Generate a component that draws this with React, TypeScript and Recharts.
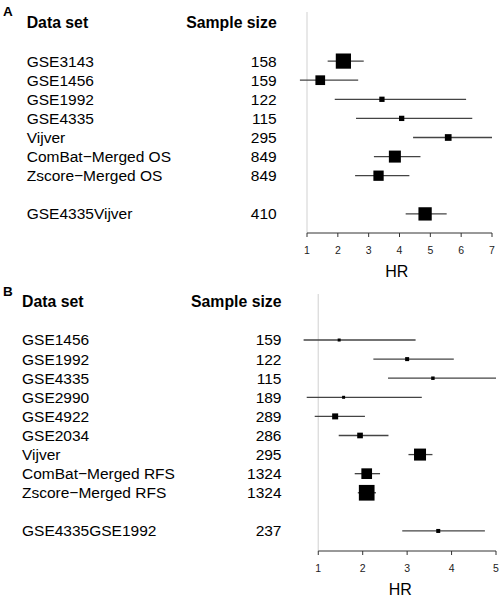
import {
  ErrorBar,
  ReferenceLine,
  Scatter,
  ScatterChart,
  XAxis,
  YAxis,
  ZAxis,
} from "recharts";

const FONT = '"Liberation Sans", Arial, Helvetica, sans-serif';

// Panel A: overall survival
const datasetsA = [
  "GSE3143",
  "GSE1456",
  "GSE1992",
  "GSE4335",
  "Vijver",
  "ComBat−Merged OS",
  "Zscore−Merged OS",
  "GSE4335Vijver",
];
const samplesA = [158, 159, 122, 115, 295, 849, 849, 410];
const hrA = [2.18, 1.43, 3.43, 4.07, 5.58, 3.85, 3.32, 4.83];
const lowerA = [1.67, 0.77, 1.9, 2.59, 4.44, 3.17, 2.56, 4.2];
const upperA = [2.84, 2.66, 6.16, 6.36, 7.0, 4.68, 4.32, 5.53];
const weightA = [231, 94, 28, 28, 45, 144, 106, 177];
const ticksA = [1, 2, 3, 4, 5, 6, 7];

// Panel B: relapse-free survival
const datasetsB = [
  "GSE1456",
  "GSE1992",
  "GSE4335",
  "GSE2990",
  "GSE4922",
  "GSE2034",
  "Vijver",
  "ComBat−Merged RFS",
  "Zscore−Merged RFS",
  "GSE4335GSE1992",
];
const samplesB = [159, 122, 115, 189, 289, 286, 295, 1324, 1324, 237];
const hrB = [1.47, 3.0, 3.58, 1.57, 1.38, 1.94, 3.29, 2.09, 2.09, 3.7];
const lowerB = [0.67, 2.24, 2.57, 0.74, 0.92, 1.46, 3.03, 1.82, 1.89, 2.89];
const upperB = [3.19, 4.05, 5.0, 3.33, 2.05, 2.58, 3.57, 2.39, 2.3, 4.75];
const weightB = [9, 16, 12, 9, 36, 32, 144, 114, 246, 16];
const ticksB = [1, 2, 3, 4, 5];

const HEADER_POS = -2;

type Row = {
  pos: number;
  label: string;
  n: number;
  hr: number;
  ci: [number, number];
  w: number;
};

// last row is the validation set, separated by a blank line
const buildRows = (
  names: string[],
  sizes: number[],
  hr: number[],
  lo: number[],
  hi: number[],
  w: number[]
): Row[] =>
  names.map((label, i) => ({
    pos: i === names.length - 1 ? i + 1 : i,
    label,
    n: sizes[i],
    hr: hr[i],
    ci: [hr[i] - lo[i], hi[i] - hr[i]],
    w: w[i],
  }));

const Box = (props: any) => {
  const { cx, cy, size } = props;
  const s = Math.sqrt(size ?? 16);
  return <rect x={cx - s / 2} y={cy - s / 2} width={s} height={s} fill="#000" />;
};

type PanelProps = {
  letter: string;
  letterTop: number;
  rows: Row[];
  ticks: number[];
  xDomain: [number, number];
  yDomain: [number, number];
  top: number;
  height: number;
  plotLeft: number;
  margin: { top: number; right: number; bottom: number; left: number };
  labelX: number;
  sizeX: number;
};

const ForestPanel = ({
  letter,
  letterTop,
  rows,
  ticks,
  xDomain,
  yDomain,
  top,
  height,
  plotLeft,
  margin,
  labelX,
  sizeX,
}: PanelProps) => {
  const renderRowTick = (props: any) => {
    const { y, payload } = props;
    if (payload.value === HEADER_POS) {
      return (
        <g fontFamily={FONT} fontSize={15.8} fontWeight="bold" fill="#000">
          <text x={labelX} y={y} dy="0.35em">
            Data set
          </text>
          <text x={sizeX} y={y} dy="0.35em" textAnchor="end">
            Sample size
          </text>
        </g>
      );
    }
    const row = rows.find((r) => r.pos === payload.value);
    if (!row) return <g />;
    return (
      <g fontFamily={FONT} fontSize={15.5} fill="#000">
        <text x={labelX} y={y} dy="0.35em">
          {row.label}
        </text>
        <text x={sizeX} y={y} dy="0.35em" textAnchor="end">
          {row.n}
        </text>
      </g>
    );
  };

  return (
    <div style={{ position: "absolute", left: 0, top, width: 502, height }}>
      <ScatterChart width={502} height={height} margin={margin}>
        <XAxis
          type="number"
          dataKey="hr"
          domain={xDomain}
          allowDataOverflow
          ticks={ticks}
          interval={0}
          height={45}
          axisLine={false}
          tickSize={4}
          tickMargin={10}
          stroke="#333"
          tick={{ fill: "#222", fontSize: 10.5, fontFamily: FONT }}
          label={{
            value: "HR",
            position: "insideBottom",
            offset: 1,
            dx: 2,
            fontSize: 16,
            fill: "#000",
            fontFamily: FONT,
          }}
        />
        <YAxis
          type="number"
          dataKey="pos"
          domain={yDomain}
          allowDataOverflow
          reversed
          ticks={[HEADER_POS, ...rows.map((r) => r.pos)]}
          interval={0}
          width={plotLeft}
          axisLine={false}
          tickLine={false}
          tick={renderRowTick}
        />
        <ZAxis type="number" dataKey="w" domain={[0, 250]} range={[0, 250]} />
        <ReferenceLine x={ticks[0]} stroke="#dedede" strokeWidth={1.4} />
        <ReferenceLine
          segment={[
            { x: ticks[0], y: yDomain[1] },
            { x: ticks[ticks.length - 1], y: yDomain[1] },
          ]}
          stroke="#333"
          strokeWidth={1}
        />
        <Scatter data={rows} shape={Box} isAnimationActive={false}>
          <ErrorBar
            dataKey="ci"
            direction="x"
            width={0}
            stroke="#444"
            strokeWidth={1.3}
            isAnimationActive={false}
          />
        </Scatter>
      </ScatterChart>
      <div
        style={{
          position: "absolute",
          left: 3,
          top: letterTop,
          fontFamily: FONT,
          fontSize: 13.5,
          lineHeight: "13px",
          fontWeight: "bold",
        }}
      >
        {letter}
      </div>
    </div>
  );
};

const rowsA = buildRows(datasetsA, samplesA, hrA, lowerA, upperA, weightA);
const rowsB = buildRows(datasetsB, samplesB, hrB, lowerB, upperB, weightB);

const App = () => (
  <div
    style={{
      position: "absolute",
      left: 0,
      top: 0,
      width: 502,
      height: 599,
      background: "#fff",
    }}
  >
    <ForestPanel
      letter="A"
      letterTop={5}
      rows={rowsA}
      ticks={ticksA}
      xDomain={[0.7, 7]}
      yDomain={[-2.57, 9.0]}
      top={0}
      height={282}
      plotLeft={297.75}
      margin={{ top: 12, right: 10, bottom: 4, left: 0 }}
      labelX={26.7}
      sizeX={276.7}
    />
    <ForestPanel
      letter="B"
      letterTop={3}
      rows={rowsB}
      ticks={ticksB}
      xDomain={[0.6, 5]}
      yDomain={[-2.41, 11.05]}
      top={282}
      height={317}
      plotLeft={300.5}
      margin={{ top: 12, right: 6, bottom: 3, left: 0 }}
      labelX={22}
      sizeX={281.5}
    />
  </div>
);

export default App;
